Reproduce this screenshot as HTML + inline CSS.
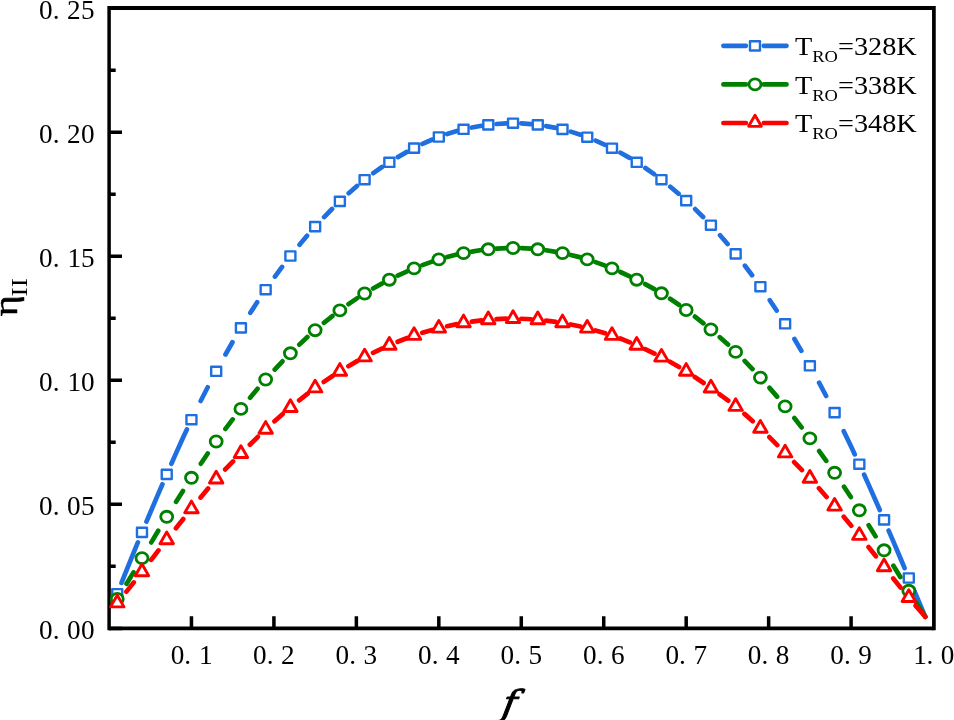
<!DOCTYPE html>
<html lang="en"><head><meta charset="utf-8"><title>Chart</title>
<style>
html,body{margin:0;padding:0;background:#fff}
body{width:954px;height:720px;overflow:hidden}
svg{display:block}
</style></head><body>
<svg width="954" height="720" viewBox="0 0 954 720">
<rect width="954" height="720" fill="#fff"/>
<g stroke="#000" stroke-width="3.5" fill="none">
<path d="M109.1 6.0V630.25"/><path d="M933.9 6.0V630.25" stroke-width="3.7"/>
<path d="M109.1 8.0H933.9" stroke-width="4.1"/>
<path d="M109.1 628.4H933.9" stroke-width="3.7"/>
<path d="M109.1 628.4h12.9M109.1 566.37h6.6M109.1 504.34h12.9M109.1 442.31h6.6M109.1 380.28h12.9M109.1 318.25h6.6M109.1 256.22h12.9M109.1 194.19h6.6M109.1 132.16h12.9M109.1 70.13h6.6M109.1 8.1h12.9M191.45 628.4v-12.1M273.91 628.4v-12.1M356.37 628.4v-12.1M438.82 628.4v-12.1M521.27 628.4v-12.1M603.73 628.4v-12.1M686.19 628.4v-12.1M768.64 628.4v-12.1M851.1 628.4v-12.1"/>
</g>
<g id="ylabels">
<text x="39.1 52.8 67.1 81.1" y="639.2" font-family="'Liberation Serif','Noto Serif CJK SC',serif" font-size="27.2" fill="#000">0.00</text>
<text x="39.1 52.8 67.1 81.1" y="515.14" font-family="'Liberation Serif','Noto Serif CJK SC',serif" font-size="27.2" fill="#000">0.05</text>
<text x="39.1 52.8 67.5 81.1" y="391.08" font-family="'Liberation Serif','Noto Serif CJK SC',serif" font-size="27.2" fill="#000">0.10</text>
<text x="39.1 52.8 67.5 81.1" y="267.02" font-family="'Liberation Serif','Noto Serif CJK SC',serif" font-size="27.2" fill="#000">0.15</text>
<text x="39.1 52.8 67.1 81.1" y="142.96" font-family="'Liberation Serif','Noto Serif CJK SC',serif" font-size="27.2" fill="#000">0.20</text>
<text x="39.1 52.8 67.1 81.1" y="18.9" font-family="'Liberation Serif','Noto Serif CJK SC',serif" font-size="27.2" fill="#000">0.25</text>
</g><g id="xlabels">
<text x="170.65 184.35 199.05" y="664.2" font-family="'Liberation Serif','Noto Serif CJK SC',serif" font-size="27.2" fill="#000">0.1</text>
<text x="253.11 266.81 281.11" y="664.2" font-family="'Liberation Serif','Noto Serif CJK SC',serif" font-size="27.2" fill="#000">0.2</text>
<text x="335.56 349.26 363.56" y="664.2" font-family="'Liberation Serif','Noto Serif CJK SC',serif" font-size="27.2" fill="#000">0.3</text>
<text x="418.02 431.72 446.02" y="664.2" font-family="'Liberation Serif','Noto Serif CJK SC',serif" font-size="27.2" fill="#000">0.4</text>
<text x="500.47 514.17 528.48" y="664.2" font-family="'Liberation Serif','Noto Serif CJK SC',serif" font-size="27.2" fill="#000">0.5</text>
<text x="582.93 596.63 610.93" y="664.2" font-family="'Liberation Serif','Noto Serif CJK SC',serif" font-size="27.2" fill="#000">0.6</text>
<text x="665.39 679.09 693.39" y="664.2" font-family="'Liberation Serif','Noto Serif CJK SC',serif" font-size="27.2" fill="#000">0.7</text>
<text x="747.84 761.54 775.84" y="664.2" font-family="'Liberation Serif','Noto Serif CJK SC',serif" font-size="27.2" fill="#000">0.8</text>
<text x="830.3 844 858.3" y="664.2" font-family="'Liberation Serif','Noto Serif CJK SC',serif" font-size="27.2" fill="#000">0.9</text>
<text x="913.15 926.45 940.75" y="664.2" font-family="'Liberation Serif','Noto Serif CJK SC',serif" font-size="27.2" fill="#000">1.0</text>
</g>
<text transform="translate(501.0 714.8) scale(1.09 1) skewX(-9)" font-family="'DejaVu Serif','Liberation Serif',serif" font-style="italic" font-size="34.7" stroke="#000" stroke-width="1.0" stroke-linejoin="round">f</text>
<text transform="translate(16.6 316.3) rotate(-90) scale(1.2 1)" font-family="'Liberation Serif',serif" font-size="33.5" stroke="#000" stroke-width="0.5">η<tspan stroke="none" font-size="22.8" dy="10.1" dx="-1">II</tspan></text>
<g id="blue">
<path d="M121.51 582.91L125.49 572.83L133.74 552.41L137.87 542.39M146.47 521.7L150.23 512.76L158.47 493.44L162.43 484.31M171.39 463.78L174.96 455.64L183.21 437.34L186.88 429.48M200.66 401.01L207.72 387.24M225.48 354.47L232.44 342.25M250.32 312.84L257.15 302.31M274.95 276.57L282.06 266.89M299.54 244.65L307.03 235.75M324.12 217.03L332.01 209.01M348.71 193.22L356.98 185.94M373.26 173.17L382.01 167.05M397.86 157.09L406.96 151.86M422.46 143.98L431.9 139.74M447.08 134.04L456.82 131.01M471.8 127.51L481.62 125.78M496.54 124L506.38 123.3M521.27 123.41L531.12 124.11M546.01 126.08L555.83 127.85M570.77 131.63L580.5 134.7M595.62 140.58L605.06 144.78M620.48 152.7L629.6 157.89M645.36 168.01L654.11 174.16M670.25 186.74L678.61 193.8M695.14 209.08L703.1 216.98M720.04 235.32L727.59 244.08M744.92 265.72L752.1 275.24M769.79 300.28L776.62 310.52M794.44 339.06L801.37 350.83M819.09 382.72L826.12 396.02M843.76 431.18L851.09 446.49L854.78 454.41M864.13 474.76L867.59 482.38L875.83 500.96L879.77 510M888.65 530.56L892.32 539.12L900.57 558.52L904.6 568.05M913.34 588.68L917.06 597.46L925.3 616.8" fill="none" stroke="#1f6fe0" stroke-width="4.7" stroke-linecap="round" stroke-linejoin="round"/>
<rect x="112.25" y="589.1" width="10.0" height="9.2" fill="#fff" stroke="#1f6fe0" stroke-width="2.4" stroke-linejoin="round"/>
<rect x="136.98" y="527.8" width="10.0" height="9.2" fill="#fff" stroke="#1f6fe0" stroke-width="2.4" stroke-linejoin="round"/>
<rect x="161.72" y="469.8" width="10.0" height="9.2" fill="#fff" stroke="#1f6fe0" stroke-width="2.4" stroke-linejoin="round"/>
<rect x="186.45" y="415.1" width="10.0" height="9.2" fill="#fff" stroke="#1f6fe0" stroke-width="2.4" stroke-linejoin="round"/>
<rect x="211.19" y="366.7" width="10.0" height="9.2" fill="#fff" stroke="#1f6fe0" stroke-width="2.4" stroke-linejoin="round"/>
<rect x="235.93" y="323.3" width="10.0" height="9.2" fill="#fff" stroke="#1f6fe0" stroke-width="2.4" stroke-linejoin="round"/>
<rect x="260.66" y="285.1" width="10.0" height="9.2" fill="#fff" stroke="#1f6fe0" stroke-width="2.4" stroke-linejoin="round"/>
<rect x="285.4" y="251.4" width="10.0" height="9.2" fill="#fff" stroke="#1f6fe0" stroke-width="2.4" stroke-linejoin="round"/>
<rect x="310.14" y="222" width="10.0" height="9.2" fill="#fff" stroke="#1f6fe0" stroke-width="2.4" stroke-linejoin="round"/>
<rect x="334.87" y="196.8" width="10.0" height="9.2" fill="#fff" stroke="#1f6fe0" stroke-width="2.4" stroke-linejoin="round"/>
<rect x="359.61" y="175.1" width="10.0" height="9.2" fill="#fff" stroke="#1f6fe0" stroke-width="2.4" stroke-linejoin="round"/>
<rect x="384.35" y="157.7" width="10.0" height="9.2" fill="#fff" stroke="#1f6fe0" stroke-width="2.4" stroke-linejoin="round"/>
<rect x="409.08" y="143.5" width="10.0" height="9.2" fill="#fff" stroke="#1f6fe0" stroke-width="2.4" stroke-linejoin="round"/>
<rect x="433.82" y="132.4" width="10.0" height="9.2" fill="#fff" stroke="#1f6fe0" stroke-width="2.4" stroke-linejoin="round"/>
<rect x="458.56" y="124.7" width="10.0" height="9.2" fill="#fff" stroke="#1f6fe0" stroke-width="2.4" stroke-linejoin="round"/>
<rect x="483.29" y="120.3" width="10.0" height="9.2" fill="#fff" stroke="#1f6fe0" stroke-width="2.4" stroke-linejoin="round"/>
<rect x="508.03" y="118.6" width="10.0" height="9.2" fill="#fff" stroke="#1f6fe0" stroke-width="2.4" stroke-linejoin="round"/>
<rect x="532.77" y="120.3" width="10.0" height="9.2" fill="#fff" stroke="#1f6fe0" stroke-width="2.4" stroke-linejoin="round"/>
<rect x="557.5" y="124.8" width="10.0" height="9.2" fill="#fff" stroke="#1f6fe0" stroke-width="2.4" stroke-linejoin="round"/>
<rect x="582.24" y="132.6" width="10.0" height="9.2" fill="#fff" stroke="#1f6fe0" stroke-width="2.4" stroke-linejoin="round"/>
<rect x="606.98" y="143.6" width="10.0" height="9.2" fill="#fff" stroke="#1f6fe0" stroke-width="2.4" stroke-linejoin="round"/>
<rect x="631.71" y="157.7" width="10.0" height="9.2" fill="#fff" stroke="#1f6fe0" stroke-width="2.4" stroke-linejoin="round"/>
<rect x="656.45" y="175.1" width="10.0" height="9.2" fill="#fff" stroke="#1f6fe0" stroke-width="2.4" stroke-linejoin="round"/>
<rect x="681.18" y="196" width="10.0" height="9.2" fill="#fff" stroke="#1f6fe0" stroke-width="2.4" stroke-linejoin="round"/>
<rect x="705.92" y="220.6" width="10.0" height="9.2" fill="#fff" stroke="#1f6fe0" stroke-width="2.4" stroke-linejoin="round"/>
<rect x="730.66" y="249.3" width="10.0" height="9.2" fill="#fff" stroke="#1f6fe0" stroke-width="2.4" stroke-linejoin="round"/>
<rect x="755.39" y="282.1" width="10.0" height="9.2" fill="#fff" stroke="#1f6fe0" stroke-width="2.4" stroke-linejoin="round"/>
<rect x="780.13" y="319.2" width="10.0" height="9.2" fill="#fff" stroke="#1f6fe0" stroke-width="2.4" stroke-linejoin="round"/>
<rect x="804.87" y="361.2" width="10.0" height="9.2" fill="#fff" stroke="#1f6fe0" stroke-width="2.4" stroke-linejoin="round"/>
<rect x="829.6" y="408" width="10.0" height="9.2" fill="#fff" stroke="#1f6fe0" stroke-width="2.4" stroke-linejoin="round"/>
<rect x="854.34" y="459.6" width="10.0" height="9.2" fill="#fff" stroke="#1f6fe0" stroke-width="2.4" stroke-linejoin="round"/>
<rect x="879.08" y="515.3" width="10.0" height="9.2" fill="#fff" stroke="#1f6fe0" stroke-width="2.4" stroke-linejoin="round"/>
<rect x="903.81" y="573.4" width="10.0" height="9.2" fill="#fff" stroke="#1f6fe0" stroke-width="2.4" stroke-linejoin="round"/>
</g>
<g id="green">
<path d="M126.58 583.78L133.48 572.36M151.3 542.41L158.22 530.83M176.09 501.73L182.94 490.94M200.82 463.7L207.72 453.55M225.45 428.9L232.64 419.43M250.07 397.69L257.55 388.79M274.69 369.6L282.48 361.35M299.3 344.64L307.41 337.05M323.89 322.84L332.37 316.07M348.5 304.18L357.3 298.15M373.1 288.44L382.25 283.34M397.74 275.62L407.15 271.32M422.39 265.1L432.02 261.59M447.07 257L456.86 254.51M471.8 251.56L481.63 250.05M496.54 248.58L506.38 248.06M521.27 248.15L531.12 248.67M546.01 250.29L555.84 251.81M570.75 254.91L580.54 257.4M595.54 262.13L605.18 265.65M620.36 271.99L629.78 276.3M645.2 284.07L654.37 289.09M670.07 298.77L678.89 304.74M694.93 316.59L703.44 323.3M719.79 337.18L727.98 344.59M744.66 360.89L752.5 369.05M769.51 387.86L777.05 396.63M794.36 418.03L801.61 427.43M819.18 451.06L826.23 460.84M844.01 486.7L850.82 497.04M868.69 525.22L875.57 536.37M893.42 565.66L900.31 576.97M916.3 602.79L925.3 616.8" fill="none" stroke="#008000" stroke-width="4.7" stroke-linecap="round" stroke-linejoin="round"/>
<ellipse cx="117.25" cy="598.9" rx="6.0" ry="5.55" fill="#fff" stroke="#008000" stroke-width="2.8"/>
<ellipse cx="141.98" cy="558.1" rx="6.0" ry="5.55" fill="#fff" stroke="#008000" stroke-width="2.8"/>
<ellipse cx="166.72" cy="516.8" rx="6.0" ry="5.55" fill="#fff" stroke="#008000" stroke-width="2.8"/>
<ellipse cx="191.45" cy="477.8" rx="6.0" ry="5.55" fill="#fff" stroke="#008000" stroke-width="2.8"/>
<ellipse cx="216.19" cy="441.5" rx="6.0" ry="5.55" fill="#fff" stroke="#008000" stroke-width="2.8"/>
<ellipse cx="240.93" cy="408.9" rx="6.0" ry="5.55" fill="#fff" stroke="#008000" stroke-width="2.8"/>
<ellipse cx="265.66" cy="379.5" rx="6.0" ry="5.55" fill="#fff" stroke="#008000" stroke-width="2.8"/>
<ellipse cx="290.4" cy="353.3" rx="6.0" ry="5.55" fill="#fff" stroke="#008000" stroke-width="2.8"/>
<ellipse cx="315.14" cy="330.2" rx="6.0" ry="5.55" fill="#fff" stroke="#008000" stroke-width="2.8"/>
<ellipse cx="339.87" cy="310.4" rx="6.0" ry="5.55" fill="#fff" stroke="#008000" stroke-width="2.8"/>
<ellipse cx="364.61" cy="293.5" rx="6.0" ry="5.55" fill="#fff" stroke="#008000" stroke-width="2.8"/>
<ellipse cx="389.35" cy="279.7" rx="6.0" ry="5.55" fill="#fff" stroke="#008000" stroke-width="2.8"/>
<ellipse cx="414.08" cy="268.4" rx="6.0" ry="5.55" fill="#fff" stroke="#008000" stroke-width="2.8"/>
<ellipse cx="438.82" cy="259.4" rx="6.0" ry="5.55" fill="#fff" stroke="#008000" stroke-width="2.8"/>
<ellipse cx="463.56" cy="253.1" rx="6.0" ry="5.55" fill="#fff" stroke="#008000" stroke-width="2.8"/>
<ellipse cx="488.29" cy="249.3" rx="6.0" ry="5.55" fill="#fff" stroke="#008000" stroke-width="2.8"/>
<ellipse cx="513.03" cy="248" rx="6.0" ry="5.55" fill="#fff" stroke="#008000" stroke-width="2.8"/>
<ellipse cx="537.77" cy="249.3" rx="6.0" ry="5.55" fill="#fff" stroke="#008000" stroke-width="2.8"/>
<ellipse cx="562.5" cy="253.1" rx="6.0" ry="5.55" fill="#fff" stroke="#008000" stroke-width="2.8"/>
<ellipse cx="587.24" cy="259.4" rx="6.0" ry="5.55" fill="#fff" stroke="#008000" stroke-width="2.8"/>
<ellipse cx="611.98" cy="268.4" rx="6.0" ry="5.55" fill="#fff" stroke="#008000" stroke-width="2.8"/>
<ellipse cx="636.71" cy="279.7" rx="6.0" ry="5.55" fill="#fff" stroke="#008000" stroke-width="2.8"/>
<ellipse cx="661.45" cy="293.3" rx="6.0" ry="5.55" fill="#fff" stroke="#008000" stroke-width="2.8"/>
<ellipse cx="686.18" cy="310" rx="6.0" ry="5.55" fill="#fff" stroke="#008000" stroke-width="2.8"/>
<ellipse cx="710.92" cy="329.5" rx="6.0" ry="5.55" fill="#fff" stroke="#008000" stroke-width="2.8"/>
<ellipse cx="735.66" cy="351.9" rx="6.0" ry="5.55" fill="#fff" stroke="#008000" stroke-width="2.8"/>
<ellipse cx="760.39" cy="377.6" rx="6.0" ry="5.55" fill="#fff" stroke="#008000" stroke-width="2.8"/>
<ellipse cx="785.13" cy="406.4" rx="6.0" ry="5.55" fill="#fff" stroke="#008000" stroke-width="2.8"/>
<ellipse cx="809.87" cy="438.4" rx="6.0" ry="5.55" fill="#fff" stroke="#008000" stroke-width="2.8"/>
<ellipse cx="834.6" cy="472.8" rx="6.0" ry="5.55" fill="#fff" stroke="#008000" stroke-width="2.8"/>
<ellipse cx="859.34" cy="510.3" rx="6.0" ry="5.55" fill="#fff" stroke="#008000" stroke-width="2.8"/>
<ellipse cx="884.08" cy="550.3" rx="6.0" ry="5.55" fill="#fff" stroke="#008000" stroke-width="2.8"/>
<ellipse cx="908.81" cy="590.8" rx="6.0" ry="5.55" fill="#fff" stroke="#008000" stroke-width="2.8"/>
</g>
<g id="red">
<path d="M126.45 591.65L133.77 582.38M151.21 559.81L158.46 550.4M175.92 528.22L183.26 519.07M200.61 497.57L208.06 488.51M225.19 469.45L233.05 461.43M249.87 444.72L257.87 436.85M274.51 421.33L282.76 414.07M299.15 400.39L307.65 393.63M323.75 381.91L332.59 376.01M348.39 366.18L357.47 360.87M373.02 352.76L382.39 348.35M397.68 341.77L407.24 337.96M422.33 332.8L432.11 329.93M447.07 326.21L456.88 324.09M471.8 321.64L481.64 320.42M496.54 319.17L506.38 318.67M521.27 318.75L531.12 319.25M546.01 320.62L555.84 321.83M570.75 324.43L580.56 326.54M595.49 330.39L605.26 333.26M620.31 338.53L629.87 342.33M645.12 349.12L654.48 353.62M669.96 361.8L679.06 367.02M694.8 376.99L703.63 382.98M719.61 394.32L728.25 400.7M744.5 413.87L752.75 421.15M769.35 437.08L777.3 445.07M794.12 462.05L802 470.05M818.95 488.28L826.58 496.93M843.74 516.85L851.24 525.69M868.55 547L875.86 556.3M893.27 578.43L900.62 587.61M915.64 605.75L925.3 616.8" fill="none" stroke="#ff0000" stroke-width="4.7" stroke-linecap="round" stroke-linejoin="round"/>
<path d="M117.25 595.23L123.97 606.88L110.52 606.88Z" fill="#fff" stroke="#ff0000" stroke-width="2.9" stroke-linejoin="round"/>
<path d="M141.98 564.03L148.71 575.68L135.26 575.68Z" fill="#fff" stroke="#ff0000" stroke-width="2.9" stroke-linejoin="round"/>
<path d="M166.72 532.03L173.44 543.68L159.99 543.68Z" fill="#fff" stroke="#ff0000" stroke-width="2.9" stroke-linejoin="round"/>
<path d="M191.45 501.13L198.18 512.78L184.73 512.78Z" fill="#fff" stroke="#ff0000" stroke-width="2.9" stroke-linejoin="round"/>
<path d="M216.19 471.33L222.92 482.98L209.47 482.98Z" fill="#fff" stroke="#ff0000" stroke-width="2.9" stroke-linejoin="round"/>
<path d="M240.93 445.83L247.65 457.48L234.2 457.48Z" fill="#fff" stroke="#ff0000" stroke-width="2.9" stroke-linejoin="round"/>
<path d="M265.66 421.63L272.39 433.28L258.94 433.28Z" fill="#fff" stroke="#ff0000" stroke-width="2.9" stroke-linejoin="round"/>
<path d="M290.4 399.83L297.13 411.48L283.68 411.48Z" fill="#fff" stroke="#ff0000" stroke-width="2.9" stroke-linejoin="round"/>
<path d="M315.14 380.23L321.86 391.88L308.41 391.88Z" fill="#fff" stroke="#ff0000" stroke-width="2.9" stroke-linejoin="round"/>
<path d="M339.87 363.63L346.6 375.28L333.15 375.28Z" fill="#fff" stroke="#ff0000" stroke-width="2.9" stroke-linejoin="round"/>
<path d="M364.61 349.23L371.34 360.88L357.89 360.88Z" fill="#fff" stroke="#ff0000" stroke-width="2.9" stroke-linejoin="round"/>
<path d="M389.35 337.53L396.07 349.18L382.62 349.18Z" fill="#fff" stroke="#ff0000" stroke-width="2.9" stroke-linejoin="round"/>
<path d="M414.08 327.73L420.81 339.38L407.36 339.38Z" fill="#fff" stroke="#ff0000" stroke-width="2.9" stroke-linejoin="round"/>
<path d="M438.82 320.43L445.55 332.08L432.09 332.08Z" fill="#fff" stroke="#ff0000" stroke-width="2.9" stroke-linejoin="round"/>
<path d="M463.56 315.13L470.28 326.78L456.83 326.78Z" fill="#fff" stroke="#ff0000" stroke-width="2.9" stroke-linejoin="round"/>
<path d="M488.29 312.03L495.02 323.68L481.57 323.68Z" fill="#fff" stroke="#ff0000" stroke-width="2.9" stroke-linejoin="round"/>
<path d="M513.03 310.83L519.75 322.48L506.3 322.48Z" fill="#fff" stroke="#ff0000" stroke-width="2.9" stroke-linejoin="round"/>
<path d="M537.77 312.03L544.49 323.68L531.04 323.68Z" fill="#fff" stroke="#ff0000" stroke-width="2.9" stroke-linejoin="round"/>
<path d="M562.5 315.13L569.23 326.78L555.78 326.78Z" fill="#fff" stroke="#ff0000" stroke-width="2.9" stroke-linejoin="round"/>
<path d="M587.24 320.43L593.96 332.08L580.51 332.08Z" fill="#fff" stroke="#ff0000" stroke-width="2.9" stroke-linejoin="round"/>
<path d="M611.98 327.73L618.7 339.38L605.25 339.38Z" fill="#fff" stroke="#ff0000" stroke-width="2.9" stroke-linejoin="round"/>
<path d="M636.71 337.53L643.44 349.18L629.99 349.18Z" fill="#fff" stroke="#ff0000" stroke-width="2.9" stroke-linejoin="round"/>
<path d="M661.45 349.43L668.17 361.08L654.72 361.08Z" fill="#fff" stroke="#ff0000" stroke-width="2.9" stroke-linejoin="round"/>
<path d="M686.18 363.63L692.91 375.28L679.46 375.28Z" fill="#fff" stroke="#ff0000" stroke-width="2.9" stroke-linejoin="round"/>
<path d="M710.92 380.33L717.65 391.98L704.2 391.98Z" fill="#fff" stroke="#ff0000" stroke-width="2.9" stroke-linejoin="round"/>
<path d="M735.66 398.73L742.38 410.38L728.93 410.38Z" fill="#fff" stroke="#ff0000" stroke-width="2.9" stroke-linejoin="round"/>
<path d="M760.39 420.53L767.12 432.18L753.67 432.18Z" fill="#fff" stroke="#ff0000" stroke-width="2.9" stroke-linejoin="round"/>
<path d="M785.13 445.23L791.86 456.88L778.41 456.88Z" fill="#fff" stroke="#ff0000" stroke-width="2.9" stroke-linejoin="round"/>
<path d="M809.87 470.53L816.59 482.18L803.14 482.18Z" fill="#fff" stroke="#ff0000" stroke-width="2.9" stroke-linejoin="round"/>
<path d="M834.6 498.43L841.33 510.08L827.88 510.08Z" fill="#fff" stroke="#ff0000" stroke-width="2.9" stroke-linejoin="round"/>
<path d="M859.34 527.73L866.07 539.38L852.62 539.38Z" fill="#fff" stroke="#ff0000" stroke-width="2.9" stroke-linejoin="round"/>
<path d="M884.08 559.03L890.8 570.68L877.35 570.68Z" fill="#fff" stroke="#ff0000" stroke-width="2.9" stroke-linejoin="round"/>
<path d="M908.81 589.83L915.54 601.48L902.09 601.48Z" fill="#fff" stroke="#ff0000" stroke-width="2.9" stroke-linejoin="round"/>
</g>
<g id="legend">
<path d="M723.4 45.85H745.9M763.8 45.85H786.5" stroke="#1f6fe0" stroke-width="4.7" stroke-linecap="round" fill="none"/>
<rect x="750" y="41.25" width="10.0" height="9.2" fill="#fff" stroke="#1f6fe0" stroke-width="2.4" stroke-linejoin="round"/>
<text transform="translate(795 55.1) scale(1.087 1)" font-family="'Liberation Serif',serif" font-size="26" fill="#000">T<tspan font-size="17" dy="6.8">RO</tspan><tspan dy="-6.8">=328K</tspan></text>
<path d="M723.4 84.4H745.9M763.8 84.4H786.5" stroke="#008000" stroke-width="4.7" stroke-linecap="round" fill="none"/>
<ellipse cx="755" cy="84.4" rx="6.0" ry="5.55" fill="#fff" stroke="#008000" stroke-width="2.8"/>
<text transform="translate(795 93.8) scale(1.087 1)" font-family="'Liberation Serif',serif" font-size="26" fill="#000">T<tspan font-size="17" dy="6.8">RO</tspan><tspan dy="-6.8">=338K</tspan></text>
<path d="M723.4 123.0H745.9M763.8 123.0H786.5" stroke="#ff0000" stroke-width="4.7" stroke-linecap="round" fill="none"/>
<path d="M755 115.27L761.39 126.34L748.61 126.34Z" fill="#fff" stroke="#ff0000" stroke-width="2.9" stroke-linejoin="round"/>
<text transform="translate(795 132.3) scale(1.087 1)" font-family="'Liberation Serif',serif" font-size="26" fill="#000">T<tspan font-size="17" dy="6.8">RO</tspan><tspan dy="-6.8">=348K</tspan></text>
</g>
</svg>
</body></html>
